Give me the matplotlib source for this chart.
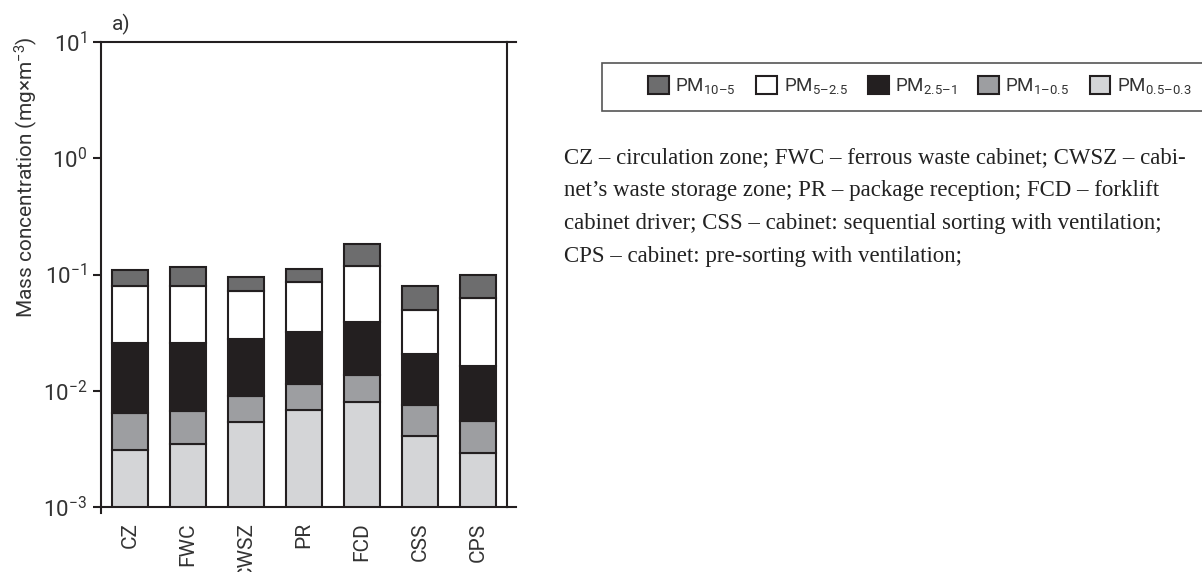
import matplotlib.pyplot as plt
from matplotlib.patches import Patch, Rectangle
import numpy as np

sites = ["CZ", "FWC", "CWSZ", "PR", "FCD", "CSS", "CPS"]

# mass concentration of each size fraction (mg/m3), bottom of stack first
pm_05_03 = [0.0031, 0.0035, 0.0054, 0.0068, 0.0080, 0.0041, 0.0029]
pm_1_05 = [0.0033, 0.0032, 0.0037, 0.0046, 0.0056, 0.0034, 0.0026]
pm_25_1 = [0.0192, 0.0189, 0.0186, 0.0208, 0.0257, 0.0131, 0.0109]
pm_5_25 = [0.0544, 0.0544, 0.0449, 0.0545, 0.0797, 0.0292, 0.0460]
pm_10_5 = [0.0290, 0.0360, 0.0224, 0.0253, 0.0650, 0.0298, 0.0376]

layers = [pm_05_03, pm_1_05, pm_25_1, pm_5_25, pm_10_5]
layer_names = ["PM$_{0.5\u20130.3}$", "PM$_{1\u20130.5}$", "PM$_{2.5\u20131}$",
               "PM$_{5\u20132.5}$", "PM$_{10\u20135}$"]
colors = ["#d4d5d7", "#9d9ea1", "#231f20", "#ffffff", "#6d6d6e"]
edge = "#231f20"

caption = ("CZ \u2013 circulation zone; FWC \u2013 ferrous waste cabinet; CWSZ \u2013 cabi-\n"
           "net\u2019s waste storage zone; PR \u2013 package reception; FCD \u2013 forklift\n"
           "cabinet driver; CSS \u2013 cabinet: sequential sorting with ventilation;\n"
           "CPS \u2013 cabinet: pre-sorting with ventilation;")

plt.rcParams['font.family'] = ['Roboto', 'DejaVu Sans']
plt.rcParams['mathtext.fontset'] = 'custom'
plt.rcParams['mathtext.rm'] = 'Roboto'
plt.rcParams['mathtext.it'] = 'Roboto'

fig = plt.figure(figsize=(12.02, 5.72), dpi=100)
ax = fig.add_axes([0.084, 0.1136, 0.3378, 0.813])

x = np.arange(len(sites))
bottom = np.zeros(len(sites))
for vals, col in zip(layers, colors):
    ax.bar(x, vals, 0.63, bottom=bottom, color=col, edgecolor=edge, linewidth=1.5,
           zorder=2)
    bottom += np.array(vals)

ax.set_yscale("log")
ax.set_ylim(1e-3, 10)
ax.set_xlim(-0.5, len(sites) - 0.5)
ax.set_yticks([1e-3, 1e-2, 1e-1, 1e0, 1e1])
ax.minorticks_off()
ax.set_xticks(x)
ax.set_xticklabels(sites, rotation=90, fontsize=15, color="#333333")
ax.tick_params(axis="x", length=0, pad=11)
ax.tick_params(axis="y", labelsize=16, length=6, width=1.5, color=edge, pad=4,
               labelcolor="#333333")
ax.set_ylabel("Mass concentration (mg\u00d7m$^{-3}$)", fontsize=15, color="#333333")
ax.yaxis.set_label_coords(-0.15, 0.71)
for s in ax.spines.values():
    s.set_linewidth(1.5)
    s.set_color(edge)

# top and bottom frame lines run a little past the right spine
for yy in (0, 1):
    ax.plot([1.0, 1.022], [yy, yy], transform=ax.transAxes, color=edge,
            lw=1.5, clip_on=False)
ax.plot([0, 0], [0, -0.012], transform=ax.transAxes, color=edge, lw=1.5,
        clip_on=False)

ax.text(0.027, 1.015, "a)", transform=ax.transAxes, fontsize=15, va="bottom",
        color="#333333")

# legend box across the top right
fig.patches.append(Rectangle((0.5008, 0.806), 0.5, 0.084, transform=fig.transFigure,
                             facecolor="white", edgecolor="#555555", lw=1.2))
handles = [Patch(facecolor=c, edgecolor=edge, linewidth=1.5, label=n)
           for c, n in zip(colors[::-1], layer_names[::-1])]
leg = fig.legend(handles=handles, ncol=5, loc="center left",
                 bbox_to_anchor=(0.5391, 0.8497), fontsize=13.5, frameon=False,
                 handlelength=1.1, handleheight=1.1, handletextpad=0.35,
                 columnspacing=1.1, borderpad=0, borderaxespad=0)
for t in leg.get_texts():
    t.set_color("#333333")

fig.text(0.469, 0.742, caption, family="Liberation Serif", fontsize=16.5,
         va="top", ha="left", linespacing=1.74, color="#222222")

fig.savefig("out.png", dpi=100)
